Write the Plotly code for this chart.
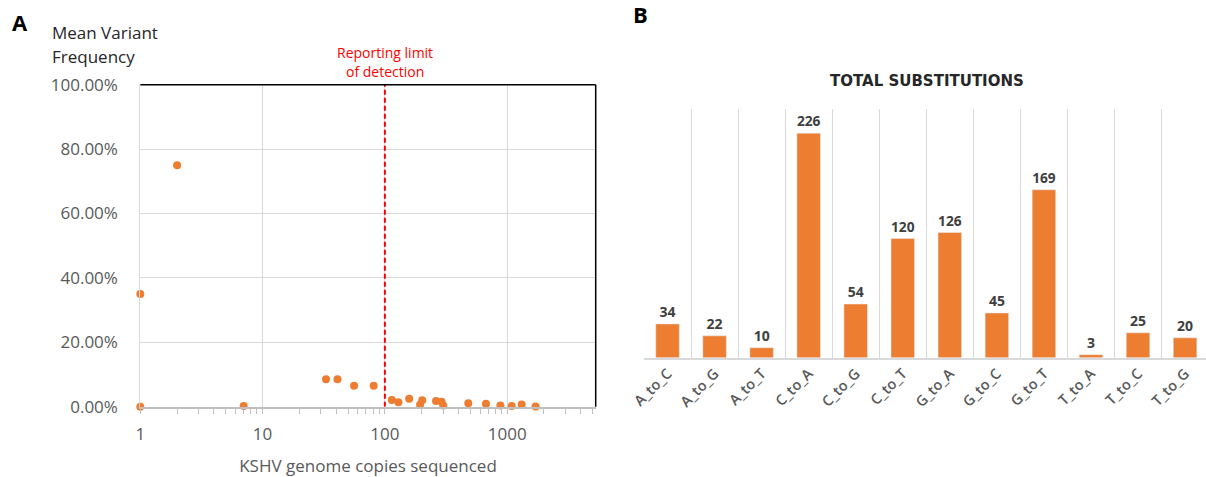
import math
import plotly.graph_objects as go

# ---------------- Data ----------------
# Panel A: mean variant frequency vs KSHV genome copies sequenced
genome_copies = [1, 1, 2, 7, 33, 41, 56, 81, 114, 129, 158, 194, 202, 262, 291, 300,
                 481, 671, 880, 1089, 1314, 1709]
variant_freq = [0.000, 0.350, 0.750, 0.002, 0.085, 0.085, 0.065, 0.065, 0.021, 0.014,
                0.025, 0.006, 0.020, 0.018, 0.015, 0.004, 0.011, 0.009, 0.004, 0.002,
                0.007, 0.0005]
detection_limit = 100
x_tick_vals = [1, 10, 100, 1000]
x_tick_text = ["1", "10", "100", "1000"]

# Panel B: total substitutions
substitutions = ["A_to_C", "A_to_G", "A_to_T", "C_to_A", "C_to_G", "C_to_T",
                 "G_to_A", "G_to_C", "G_to_T", "T_to_A", "T_to_C", "T_to_G"]
counts = [34, 22, 10, 226, 54, 120, 126, 45, 169, 3, 25, 20]

# ---------------- Style ----------------
ORANGE = "#ED7D31"
GRID = "#D9D9D9"
TICKGRAY = "#595959"
FONT = "Open Sans"
W, H = 1206, 477


def px(x):
    return x / W


def py(y):
    return 1 - y / H


fig = go.Figure()

fig.add_trace(go.Scatter(
    x=genome_copies, y=variant_freq, mode="markers",
    marker=dict(color=ORANGE, size=8),
    xaxis="x", yaxis="y", cliponaxis=False, showlegend=False))

fig.add_trace(go.Scatter(
    x=[detection_limit, detection_limit], y=[0, 1], mode="lines",
    line=dict(color="#FF0000", width=2, dash="5px,3px"),
    xaxis="x", yaxis="y", showlegend=False, hoverinfo="skip"))

fig.add_trace(go.Bar(
    x=substitutions, y=counts, marker=dict(color=ORANGE),
    text=[str(c) for c in counts], textposition="outside",
    textfont=dict(family=FONT, size=14, color="#404040", weight="bold"),
    cliponaxis=False, xaxis="x2", yaxis="y2", showlegend=False))

x_range = [0, 3.724]
cat_w = 47.05
bar_range_max = (W - 644) / cat_w - 0.5

fig.update_layout(
    width=W, height=H,
    margin=dict(l=0, r=0, t=0, b=0),
    paper_bgcolor="white", plot_bgcolor="white",
    font=dict(family=FONT, color=TICKGRAY),
    bargap=0.5,
    xaxis=dict(
        domain=[px(140.3), px(595.7)], anchor="y", type="log", range=x_range,
        tickmode="array", tickvals=x_tick_vals, ticktext=x_tick_text,
        showgrid=True, gridcolor=GRID, gridwidth=1,
        showline=True, linecolor="#BFBFBF", linewidth=1.5,
        ticks="outside", ticklen=6, tickcolor="#BFBFBF", ticklabelstandoff=5,
        minor=dict(dtick="D1", ticks="outside", ticklen=6, tickcolor="#BFBFBF", showgrid=False),
        tickfont=dict(size=17, color=TICKGRAY),
        title=dict(text="KSHV genome copies sequenced", font=dict(size=17, color=TICKGRAY), standoff=16),
        zeroline=False, automargin=False),
    xaxis3=dict(
        domain=[px(140.3), px(595.7)], anchor="y", overlaying="x", type="log", range=x_range,
        tickmode="array", tickvals=x_tick_vals, showticklabels=False,
        showgrid=False, showline=False,
        ticks="inside", ticklen=6, tickcolor="#BFBFBF",
        minor=dict(dtick="D1", ticks="inside", ticklen=6, tickcolor="#BFBFBF", showgrid=False),
        automargin=False),
    yaxis=dict(
        domain=[py(406.7), py(84.7)], anchor="x", range=[0, 1],
        dtick=0.2, tickformat=".2%",
        showgrid=True, gridcolor=GRID, gridwidth=1,
        showline=True, linecolor=GRID, linewidth=1,
        ticks="", ticklabelstandoff=18,
        tickfont=dict(size=17, color=TICKGRAY),
        zeroline=False, automargin=False),
    xaxis2=dict(
        domain=[px(644), 1.0], anchor="y2", type="category", range=[-0.5, bar_range_max],
        tickson="boundaries", showgrid=True, gridcolor=GRID, gridwidth=1,
        showline=True, linecolor=GRID, linewidth=1.5,
        ticks="", tickangle=-45,
        tickfont=dict(size=14.5, color=TICKGRAY, weight=600),
        automargin=False),
    yaxis2=dict(
        domain=[py(357.7), py(109.3)], anchor="x2", range=[0, 250],
        visible=False, showgrid=False, zeroline=False),
)

# black top and right border of panel A
fig.add_shape(type="line", xref="x domain", yref="y domain", x0=0, x1=1, y0=1, y1=1,
              line=dict(color="black", width=1.5))
fig.add_shape(type="line", xref="x domain", yref="y domain", x0=1, x1=1, y0=0, y1=1,
              line=dict(color="black", width=1.5))

fig.add_annotation(text="Reporting limit", xref="x", yref="paper",
                   x=math.log10(detection_limit), y=py(52), xanchor="center", yanchor="middle",
                   showarrow=False, font=dict(size=14, color="#FF0000", family=FONT))
fig.add_annotation(text="of detection", xref="x", yref="paper",
                   x=math.log10(detection_limit), y=py(72), xanchor="center", yanchor="middle",
                   showarrow=False, font=dict(size=14, color="#FF0000", family=FONT))
fig.add_annotation(text="Mean Variant", xref="paper", yref="paper",
                   x=px(50), y=py(32), xanchor="left", yanchor="middle", align="left",
                   showarrow=False, font=dict(size=17, color="#262626", family=FONT))
fig.add_annotation(text="Frequency", xref="paper", yref="paper",
                   x=px(50), y=py(56), xanchor="left", yanchor="middle", align="left",
                   showarrow=False, font=dict(size=17, color="#262626", family=FONT))
fig.add_annotation(text="<b>A</b>", xref="paper", yref="paper",
                   x=px(20), y=py(22), xanchor="center", yanchor="middle",
                   showarrow=False, font=dict(size=22, color="black", family=FONT))
fig.add_annotation(text="<b>B</b>", xref="paper", yref="paper",
                   x=px(640), y=py(14), xanchor="center", yanchor="middle",
                   showarrow=False, font=dict(size=22, color="black", family=FONT))
fig.add_annotation(text="<b>TOTAL SUBSTITUTIONS</b>", xref="paper", yref="paper",
                   x=px(926.7), y=py(80.7), xanchor="center", yanchor="middle",
                   showarrow=False, font=dict(size=15, color="#262626", family="DejaVu Sans"))

fig.write_html("out.html", config={"displayModeBar": False},
               post_script="document.body.style.margin='0px';")
